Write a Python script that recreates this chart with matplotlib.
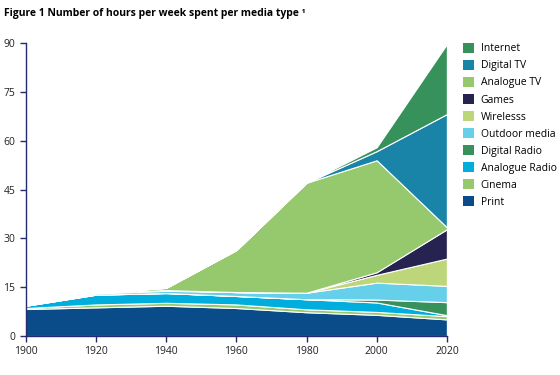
import matplotlib
matplotlib.use("Agg")
import matplotlib.pyplot as plt
from matplotlib.patches import Patch

plt.rcParams['font.family'] = ['Open Sans', 'DejaVu Sans']

# hours per week
years = [1900, 1920, 1940, 1960, 1980, 2000, 2020]
print_media = [8.3, 8.8, 9.3, 8.6, 7.3, 6.5, 5.1]
cinema = [0.3, 0.9, 0.9, 1.1, 0.9, 0.9, 1.0]
analogue_radio = [0.7, 3.0, 3.0, 2.6, 3.1, 2.9, 0.3]
digital_radio = [0, 0, 0, 0, 0, 0.9, 4.0]
outdoor_media = [0.2, 0.4, 0.7, 1.2, 2.0, 5.2, 5.0]
wireless = [0.1, 0.2, 0.2, 0, 0, 2.4, 8.4]
games = [0, 0, 0, 0, 0, 0.8, 9.0]
analogue_tv = [0, 0, 0.7, 12.9, 33.8, 34.4, 0.6]
digital_tv = [0, 0, 0, 0, 0, 2.8, 34.8]
internet = [0, 0, 0, 0, 0, 1.2, 21.5]

labels = ['Print', 'Cinema', 'Analogue Radio', 'Digital Radio', 'Outdoor media',
          'Wirelesss', 'Games', 'Analogue TV', 'Digital TV', 'Internet']
colors = ['#0a4b8a', '#96c96e', '#00aedd', '#36925a', '#66cfe9',
          '#bdd679', '#262350', '#96c96e', '#1a83a8', '#36925a']
series = [print_media, cinema, analogue_radio, digital_radio, outdoor_media,
          wireless, games, analogue_tv, digital_tv, internet]

fig = plt.figure(figsize=(5.6, 3.75), dpi=100)
ax = fig.add_axes([0.046, 0.104, 0.752, 0.781])

ax.stackplot(years, *series, colors=colors, edgecolor='white', linewidth=0.8)

ax.set_xlim(1900, 2020)
ax.set_ylim(0, 90)
ax.set_xticks(range(1900, 2021, 20))
ax.set_yticks(range(0, 91, 15))

navy = '#262a6e'
for side in ['top', 'right']:
    ax.spines[side].set_visible(False)
for side in ['left', 'bottom']:
    ax.spines[side].set_color(navy)
    ax.spines[side].set_linewidth(1.0)
ax.tick_params(direction='out', length=4, width=1, color=navy,
               labelsize=7.5, labelcolor='#222222')

handles = [Patch(facecolor=c, edgecolor='none') for c in colors]
fig.legend(handles[::-1], labels[::-1], loc='upper left',
           bbox_to_anchor=(0.819, 0.897), frameon=False, fontsize=7.5,
           handlelength=1.1, handleheight=1.1, handletextpad=0.6,
           labelspacing=0.53, borderaxespad=0)

fig.text(0.008, 0.965, 'Figure 1 Number of hours per week spent per media type ¹',
         fontsize=7.5, fontweight='bold', va='center', ha='left')

plt.savefig('out.png', dpi=100)
